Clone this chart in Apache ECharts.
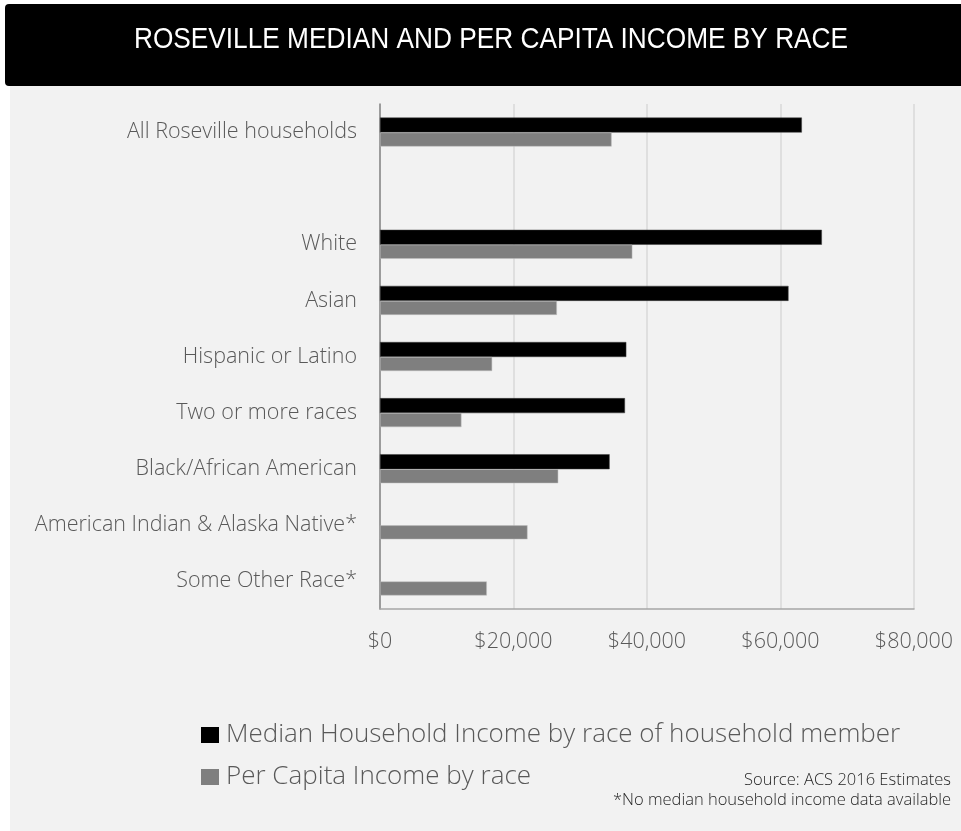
<!DOCTYPE html>
<html>
<head>
<meta charset="utf-8">
<script src="https://cdn.jsdelivr.net/npm/echarts@6/dist/echarts.min.js"></script>
<style>
  html, body { margin: 0; padding: 0; background: #ffffff; }
  #chart { width: 961px; height: 831px; }
</style>
</head>
<body>
<div id="chart"></div>
<script>
// Income categories, top to bottom; the blank entry is a spacer row
const categories = [
  'All Roseville households',
  '',
  'White',
  'Asian',
  'Hispanic or Latino',
  'Two or more races',
  'Black/African American',
  'American Indian & Alaska Native*',
  'Some Other Race*'
];
// Median household income by race of household member (null = no data)
const medianIncome = [63200, null, 66200, 61200, 36900, 36700, 34400, null, null];
// Per capita income by race
const perCapitaIncome = [34700, null, 37800, 26500, 16800, 12200, 26700, 22100, 16000];
// Value-axis ticks
const tickValues = [0, 20000, 40000, 60000, 80000];
const tickLabels = ['$0', '$20,000', '$40,000', '$60,000', '$80,000'];

const seriesNames = [
  'Median Household Income by race of household member',
  'Per Capita Income by race'
];

const FONT = '"Open Sans", "DejaVu Sans", sans-serif';
const TEXT = '#595959';

const chart = echarts.init(document.getElementById('chart'), null, { renderer: 'canvas' });

chart.setOption({
  backgroundColor: '#ffffff',
  animation: false,
  graphic: [
    // light panel behind the plot and the black title banner
    { type: 'rect', z: -10, shape: { x: 10, y: 86, width: 951, height: 745 }, style: { fill: '#f2f2f2' } },
    { type: 'rect', z: -9, shape: { x: 5, y: 4, width: 960, height: 82, r: [4, 0, 0, 4] }, style: { fill: '#000000' } },
    {
      type: 'text', z: 10, x: 491, y: 40, scaleX: 0.905,
      style: {
        text: 'ROSEVILLE MEDIAN AND PER CAPITA INCOME BY RACE',
        fill: '#ffffff', font: '29px "Liberation Sans", Arial, sans-serif',
        textAlign: 'center', textVerticalAlign: 'middle'
      }
    },
    {
      type: 'text', z: 10, x: 951, y: 780,
      style: { text: 'Source: ACS 2016 Estimates', fill: '#262626', font: '300 16.5px ' + FONT, textAlign: 'right', textVerticalAlign: 'middle' }
    },
    {
      type: 'text', z: 10, x: 951, y: 800,
      style: { text: '*No median household income data available', fill: '#262626', font: '300 16.5px ' + FONT, textAlign: 'right', textVerticalAlign: 'middle' }
    }
  ],
  legend: {
    orient: 'vertical',
    left: 201,
    top: 722,
    padding: 0,
    itemWidth: 18,
    itemHeight: 16,
    itemGap: 16,
    icon: 'rect',
    selectedMode: false,
    data: seriesNames,
    itemStyle: { borderWidth: 0 },
    textStyle: { color: TEXT, fontSize: 26, fontFamily: FONT, fontWeight: 300, padding: [0, 0, 0, 2] }
  },
  grid: { left: 380, right: 47, top: 104, bottom: 222, containLabel: false },
  xAxis: {
    type: 'value',
    min: 0, max: 80000, interval: 20000,
    axisLine: { show: true, lineStyle: { color: '#a6a6a6', width: 1.5 } },
    axisTick: { show: false },
    splitLine: { lineStyle: { color: '#d9d9d9', width: 1.5 } },
    axisLabel: {
      color: TEXT, fontSize: 21.5, fontFamily: FONT, fontWeight: 300, margin: 22,
      formatter: v => tickLabels[tickValues.indexOf(v)]
    }
  },
  yAxis: {
    type: 'category',
    inverse: true,
    data: categories,
    axisLine: { show: true, lineStyle: { color: '#868686', width: 1.5 } },
    axisTick: { show: false },
    axisLabel: { color: TEXT, fontSize: 21.5, fontFamily: FONT, fontWeight: 300, margin: 23 }
  },
  series: [
    {
      name: seriesNames[0], type: 'bar', data: medianIncome,
      barWidth: 15, barGap: '0%',
      itemStyle: { color: '#000000', borderColor: '#404040', borderWidth: 0.5 }
    },
    {
      name: seriesNames[1], type: 'bar', data: perCapitaIncome,
      barWidth: 14, barGap: '0%',
      itemStyle: { color: '#7f7f7f', borderColor: '#bfbfbf', borderWidth: 0.5 }
    }
  ]
});
</script>
</body>
</html>
